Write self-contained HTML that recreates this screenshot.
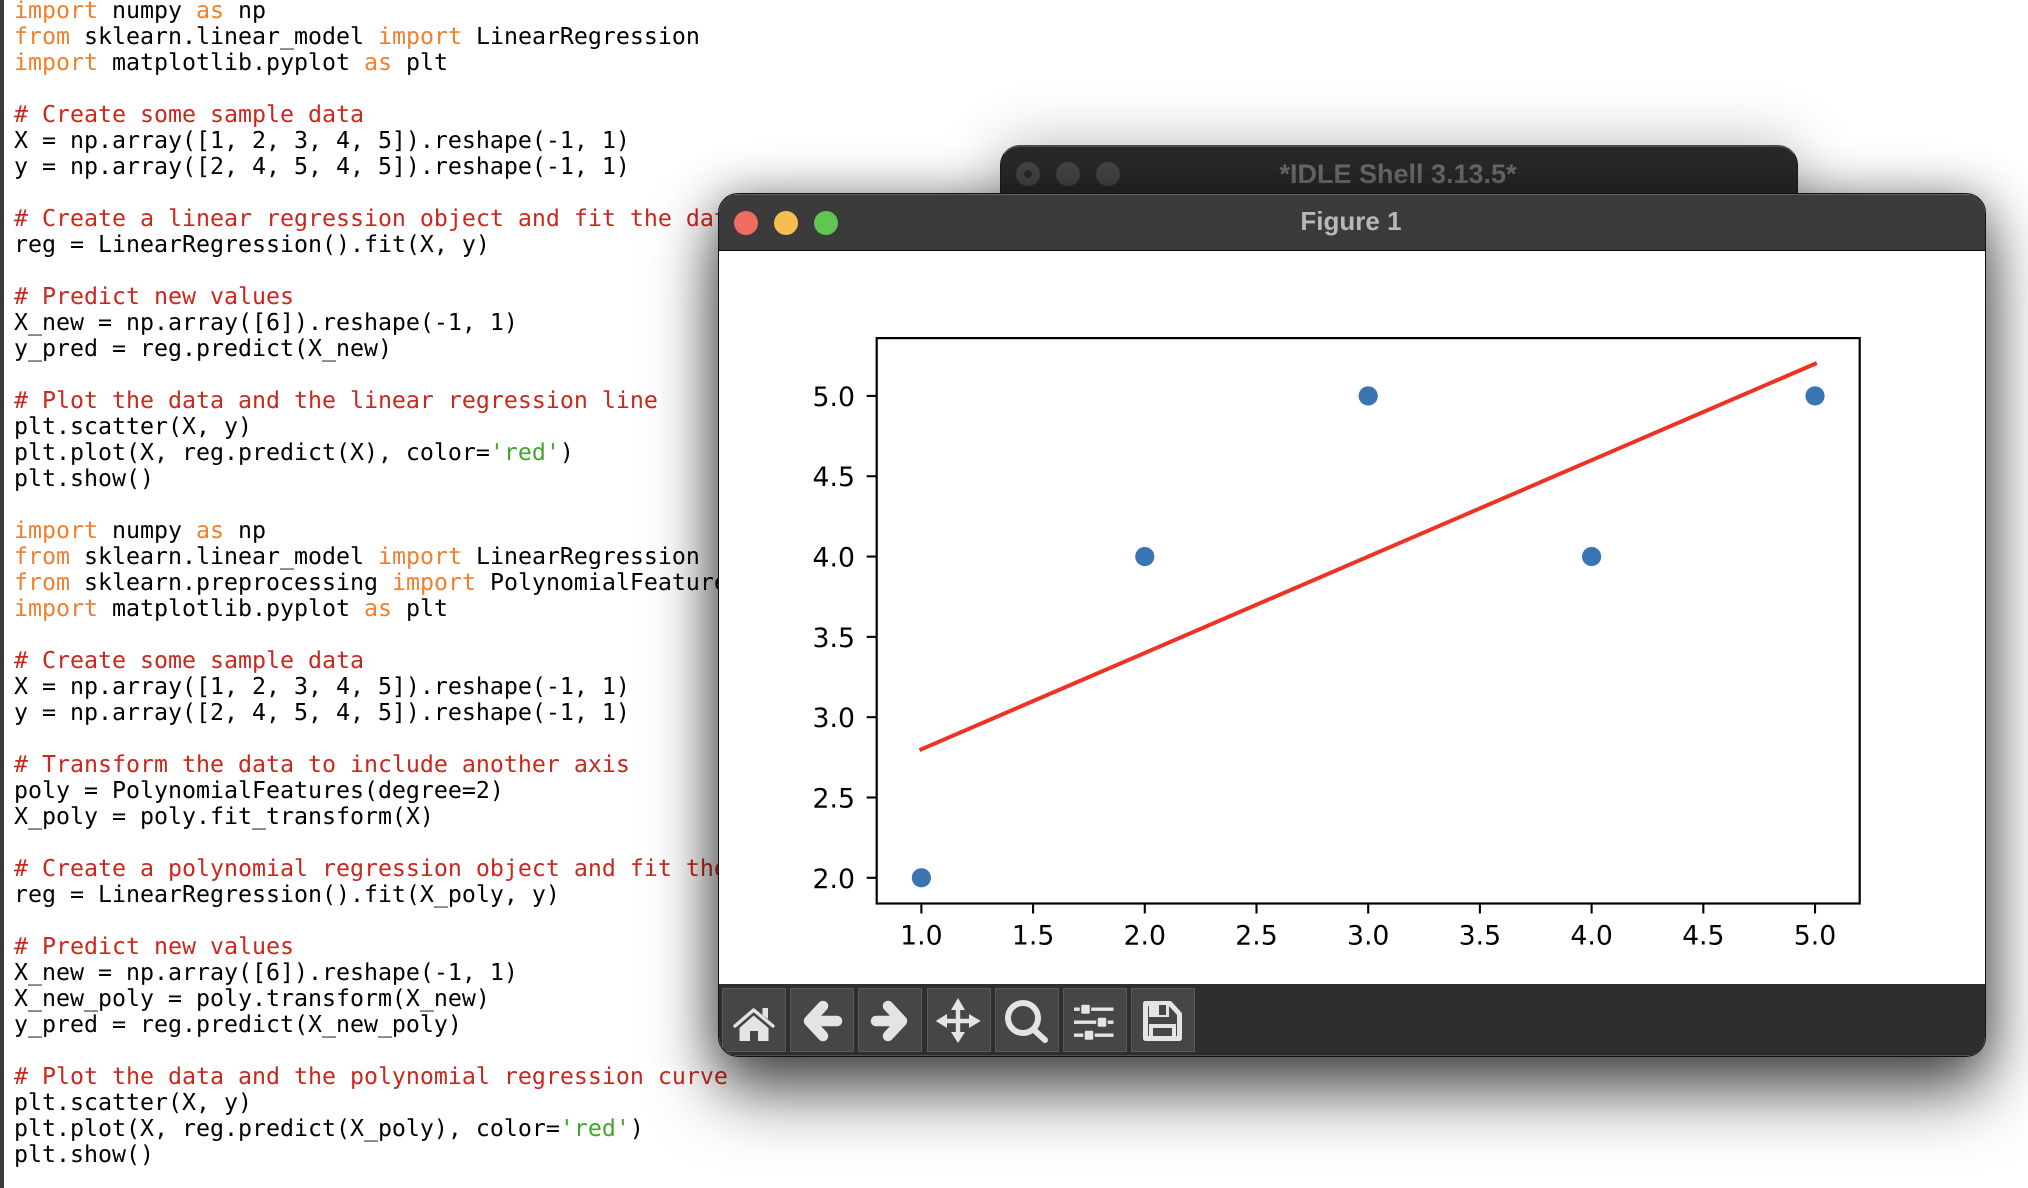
<!DOCTYPE html>
<html lang="en">
<head>
<meta charset="utf-8">
<title>Figure 1 over IDLE editor</title>
<style>
html,body{margin:0;padding:0;background:#fff;width:2028px;height:1188px;overflow:hidden}
body{position:relative;font-family:"Liberation Sans",sans-serif}
#edge{position:absolute;left:0;top:0;width:3.5px;height:1188px;background:#3a3a3a}
#code{position:absolute;left:14px;top:-2.2px;font:23.25px/26px "DejaVu Sans Mono",monospace;color:#000;text-rendering:geometricPrecision}
#code div{height:26px;white-space:pre}
.k{color:#ef8030}.c{color:#c9281e}.s{color:#44a52e}
.win{position:absolute;box-sizing:border-box;overflow:hidden}
#idle{left:1000px;top:145px;width:798px;height:120px;border-radius:20px 20px 0 0;background:#28292b;border:1px solid #1a1a1a;border-top:2px solid #4b4c4e}
#idle-wrap{position:absolute;left:1000px;top:145px;width:798px;height:120px;border-radius:20px 20px 0 0;box-shadow:0 0 60px rgba(0,0,0,.28)}
#idle-title{position:absolute;left:999px;top:157.5px;width:798px;text-align:center;font:bold 27px/32px "Liberation Sans",sans-serif;color:#6c6d6f}
.dot{position:absolute;width:24px;height:24px;border-radius:50%}
#fig-shadow{position:absolute;left:718px;top:193px;width:1268px;height:864px;border-radius:20px;box-shadow:0 36px 68px rgba(0,0,0,.62),0 4px 50px rgba(0,0,0,.42)}
#fig{left:718px;top:193px;width:1268px;height:864px;border-radius:20px;background:#fff;border:1px solid #111}
#fig-bar{position:absolute;left:0;top:0;right:0;height:57px;background:#3b3b3b;border-top:1.5px solid #626262;border-bottom:1px solid #0c0c0c;box-sizing:border-box}
#fig-title{position:absolute;left:-2px;right:0;top:9.7px;text-align:center;font:bold 26px/32px "Liberation Sans",sans-serif;color:#b8b8b8}
#fig-tools{position:absolute;left:0;right:0;top:790px;height:72px;background:#2d2e30;border-bottom:1.5px solid #505050;box-sizing:border-box}
.btn{position:absolute;top:3.5px;width:64px;height:64px;box-sizing:border-box;background:#444648;border:1px solid #58595b}
#overlay{position:absolute;left:0;top:0}
</style>
</head>
<body>
<div id="edge"></div>
<div id="code">
<div><span class="k">import</span> numpy <span class="k">as</span> np</div>
<div><span class="k">from</span> sklearn.linear_model <span class="k">import</span> LinearRegression</div>
<div><span class="k">import</span> matplotlib.pyplot <span class="k">as</span> plt</div>
<div> </div>
<div class="c"># Create some sample data</div>
<div>X = np.array([1, 2, 3, 4, 5]).reshape(-1, 1)</div>
<div>y = np.array([2, 4, 5, 4, 5]).reshape(-1, 1)</div>
<div> </div>
<div class="c"># Create a linear regression object and fit the data</div>
<div>reg = LinearRegression().fit(X, y)</div>
<div> </div>
<div class="c"># Predict new values</div>
<div>X_new = np.array([6]).reshape(-1, 1)</div>
<div>y_pred = reg.predict(X_new)</div>
<div> </div>
<div class="c"># Plot the data and the linear regression line</div>
<div>plt.scatter(X, y)</div>
<div>plt.plot(X, reg.predict(X), color=<span class="s">'red'</span>)</div>
<div>plt.show()</div>
<div> </div>
<div><span class="k">import</span> numpy <span class="k">as</span> np</div>
<div><span class="k">from</span> sklearn.linear_model <span class="k">import</span> LinearRegression</div>
<div><span class="k">from</span> sklearn.preprocessing <span class="k">import</span> PolynomialFeatures</div>
<div><span class="k">import</span> matplotlib.pyplot <span class="k">as</span> plt</div>
<div> </div>
<div class="c"># Create some sample data</div>
<div>X = np.array([1, 2, 3, 4, 5]).reshape(-1, 1)</div>
<div>y = np.array([2, 4, 5, 4, 5]).reshape(-1, 1)</div>
<div> </div>
<div class="c"># Transform the data to include another axis</div>
<div>poly = PolynomialFeatures(degree=2)</div>
<div>X_poly = poly.fit_transform(X)</div>
<div> </div>
<div class="c"># Create a polynomial regression object and fit the model</div>
<div>reg = LinearRegression().fit(X_poly, y)</div>
<div> </div>
<div class="c"># Predict new values</div>
<div>X_new = np.array([6]).reshape(-1, 1)</div>
<div>X_new_poly = poly.transform(X_new)</div>
<div>y_pred = reg.predict(X_new_poly)</div>
<div> </div>
<div class="c"># Plot the data and the polynomial regression curve</div>
<div>plt.scatter(X, y)</div>
<div>plt.plot(X, reg.predict(X_poly), color=<span class="s">'red'</span>)</div>
<div>plt.show()</div>
</div>

<div id="idle-wrap"></div>
<div id="idle" class="win"></div>
<div id="idle-title">*IDLE Shell 3.13.5*</div>
<div class="dot" style="left:1016px;top:162px;background:#454648"><div style="position:absolute;left:8px;top:8px;width:8px;height:8px;border-radius:50%;background:#28292b"></div></div>
<div class="dot" style="left:1056px;top:162px;background:#454648"></div>
<div class="dot" style="left:1096px;top:162px;background:#454648"></div>

<div id="fig-shadow"></div>
<div id="fig" class="win">
  <div id="fig-bar">
    <div id="fig-title">Figure 1</div>
  </div>
  <div class="dot" style="left:15px;top:16.5px;background:#f06b60"></div>
  <div class="dot" style="left:55px;top:16.5px;background:#f5be4f"></div>
  <div class="dot" style="left:95px;top:16.5px;background:#61c554"></div>
  <div id="fig-tools">
    <div class="btn" style="left:3px"></div>
    <div class="btn" style="left:71px"></div>
    <div class="btn" style="left:139px"></div>
    <div class="btn" style="left:207.5px"></div>
    <div class="btn" style="left:275.5px"></div>
    <div class="btn" style="left:343.5px"></div>
    <div class="btn" style="left:411.5px"></div>
  </div>
</div>

<svg id="overlay" width="2028" height="1188" viewBox="0 0 2028 1188" xmlns="http://www.w3.org/2000/svg">
  <g id="icons" fill="#e4e4e4" stroke="none">
    <g>
      <path d="M735 1026 L753.6 1010 L773 1026" fill="none" stroke="#e4e4e4" stroke-width="3.4" stroke-linecap="round" stroke-linejoin="round"/>
      <path d="M762.5 1008 H768 V1019 L762.5 1015 Z"/>
      <path d="M739.5 1028 L753.6 1015.5 L768.5 1028 V1041 H758 V1031 H750 V1041 H739.5 Z"/>
    </g>
    <g fill="none" stroke="#e4e4e4" stroke-width="10.5" stroke-linecap="round" stroke-linejoin="round">
      <path d="M823 1006 L809 1021 L823 1036 M809 1021 H837"/>
    </g>
    <g fill="none" stroke="#e4e4e4" stroke-width="10.5" stroke-linecap="round" stroke-linejoin="round">
      <path d="M888 1006 L902 1021 L888 1036 M902 1021 H876"/>
    </g>
    <g>
      <path d="M955.8 1010 H960.2 V1018.8 H969 V1014 L980.7 1021 L969 1028 V1023.2 H960.2 V1032 H965 L958 1043 L951 1032 H955.8 V1023.2 H947 V1028 L935.7 1021 L947 1014 V1018.8 H955.8 V1010 H951 L958 998 L965 1010 Z"/>
    </g>
    <g fill="none" stroke="#e4e4e4" stroke-width="6" stroke-linecap="round">
      <circle cx="1023" cy="1018" r="15"/>
      <path d="M1034 1030 L1045 1040"/>
    </g>
    <g>
      <rect x="1074" y="1007.5" width="39.5" height="3.4"/>
      <rect x="1074" y="1020.5" width="39.5" height="3.4"/>
      <rect x="1074" y="1033.5" width="39.5" height="3.4"/>
      <rect x="1080.5" y="1004" width="10" height="10.5" rx="2" stroke="#444648" stroke-width="1.5"/>
      <rect x="1097" y="1017" width="10" height="10.5" rx="2" stroke="#444648" stroke-width="1.5"/>
      <rect x="1084" y="1030" width="10" height="10.5" rx="2" stroke="#444648" stroke-width="1.5"/>
    </g>
    <g>
      <path d="M1145.5 1003.5 H1170 L1179.5 1014 V1038.5 H1145.5 Z" fill="none" stroke="#e4e4e4" stroke-width="5" stroke-linejoin="round"/>
      <rect x="1149" y="1003" width="20" height="14"/>
      <rect x="1159" y="1005" width="7" height="10" fill="#444648"/>
      <rect x="1149" y="1024" width="27" height="4"/>
      <rect x="1149" y="1026" width="4" height="14"/>
      <rect x="1172" y="1026" width="4" height="14"/>
    </g>
  </g>
  <g id="chart"></g>
</svg>

<script>
const xValues = [1, 2, 3, 4, 5];
const yValues = [2, 4, 5, 4, 5];
const fitValues = [2.8, 3.4, 4.0, 4.6, 5.2];
const xTicks = [1, 1.5, 2, 2.5, 3, 3.5, 4, 4.5, 5];
const xTickLabels = ['1.0', '1.5', '2.0', '2.5', '3.0', '3.5', '4.0', '4.5', '5.0'];
const yTicks = [2, 2.5, 3, 3.5, 4, 4.5, 5];
const yTickLabels = ['2.0', '2.5', '3.0', '3.5', '4.0', '4.5', '5.0'];
const xDomain = [0.8, 5.2];
const yDomain = [1.84, 5.36];

const NS = 'http://www.w3.org/2000/svg';
const plotBox = { left: 876.7, right: 1859.7, top: 338.1, bottom: 903.5 };
const chartRoot = document.getElementById('chart');

function xScale(v) {
  return plotBox.left + (v - xDomain[0]) / (xDomain[1] - xDomain[0]) * (plotBox.right - plotBox.left);
}
function yScale(v) {
  return plotBox.bottom - (v - yDomain[0]) / (yDomain[1] - yDomain[0]) * (plotBox.bottom - plotBox.top);
}
function make(tag, attrs, parent) {
  const el = document.createElementNS(NS, tag);
  for (const key in attrs) el.setAttribute(key, attrs[key]);
  parent.appendChild(el);
  return el;
}

xValues.forEach(function (x, i) {
  const el = make('circle', { cx: xScale(x), cy: yScale(yValues[i]), r: 9.6, fill: '#3a74b2' }, chartRoot);
  
  
});

const fitPoints = xValues.map(function (x, i) {
  return xScale(x) + ',' + yScale(fitValues[i]);
}).join(' ');
const fitLine = make('polyline', { points: fitPoints, fill: 'none', stroke: '#ee3324', 'stroke-width': 4, 'stroke-linecap': 'square', 'stroke-linejoin': 'round' }, chartRoot);



xTicks.forEach(function (t, i) {
  const px = xScale(t);
  const tick = make('line', { x1: px, x2: px, y1: plotBox.bottom, y2: plotBox.bottom + 10, stroke: '#000', 'stroke-width': 2.1 }, chartRoot);
  
  
  const label = make('text', { x: px, y: 944.5, 'text-anchor': 'middle', 'font-family': '"DejaVu Sans", sans-serif', 'font-size': 26.7, fill: '#000' }, chartRoot);
  label.textContent = xTickLabels[i];
  
  
});

yTicks.forEach(function (t, i) {
  const py = yScale(t);
  const tick = make('line', { x1: plotBox.left - 10, x2: plotBox.left, y1: py, y2: py, stroke: '#000', 'stroke-width': 2.1 }, chartRoot);
  
  
  const label = make('text', { x: 855, y: py + 10, 'text-anchor': 'end', 'font-family': '"DejaVu Sans", sans-serif', 'font-size': 26.7, fill: '#000' }, chartRoot);
  label.textContent = yTickLabels[i];
  
  
});

const frame = make('rect', { x: plotBox.left, y: plotBox.top, width: plotBox.right - plotBox.left, height: plotBox.bottom - plotBox.top, fill: 'none', stroke: '#000', 'stroke-width': 2.2 }, chartRoot);


</script>
</body>
</html>
